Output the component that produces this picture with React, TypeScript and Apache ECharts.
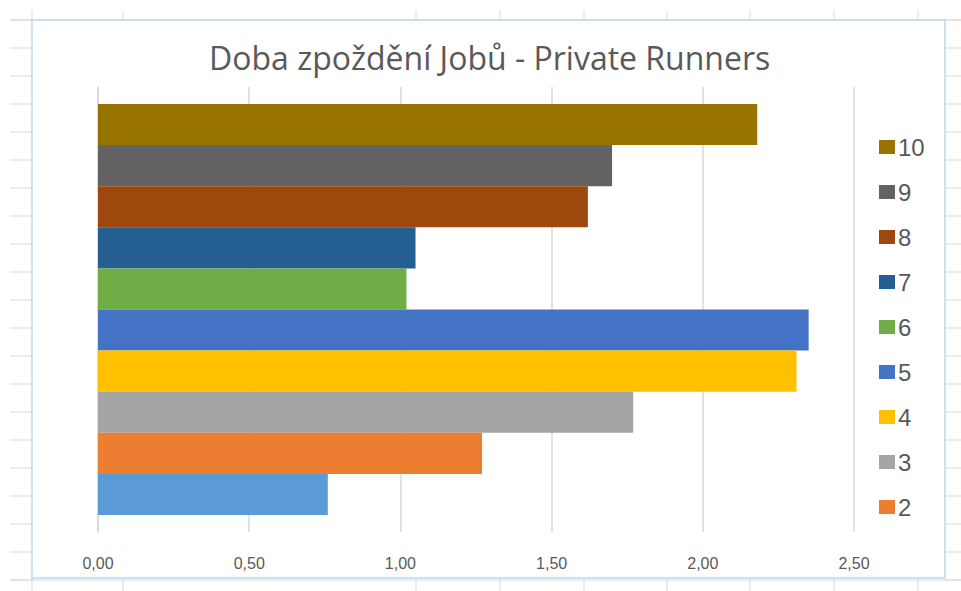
import React, { useEffect, useRef } from "react";
import * as echarts from "echarts";

const categories = [""];
const seriesNames = ["1", "2", "3", "4", "5", "6", "7", "8", "9", "10"];
const seriesValues = [0.76, 1.27, 1.77, 2.31, 2.35, 1.02, 1.05, 1.62, 1.7, 2.18];
const seriesColors = [
  "#5B9BD5", "#ED7D31", "#A5A5A5", "#FFC000", "#4472C4",
  "#70AD47", "#255E91", "#9E480E", "#636363", "#997300",
];
const legendOrder = ["10", "9", "8", "7", "6", "5", "4", "3", "2"];
const xMin = 0;
const xMax = 2.5;
const xInterval = 0.5;
const titleText = "Doba zpoždění Jobů - Private Runners";

// spreadsheet background grid positions
const rowLines = [20, 48, 76, 104, 132, 160, 188, 216, 244, 272, 300, 328, 356, 384, 412, 440, 468, 496, 524, 552, 580];
const colLines = [32, 123, 416, 500, 584, 667, 750, 834, 918];

export default function App() {
  const ref = useRef<HTMLDivElement>(null);
  useEffect(() => {
    if (!ref.current) return;
    const chart = echarts.init(ref.current, null, { renderer: "svg" });
    const sheetColor = "#D9D9D9";
    const graphics: any[] = [];
    rowLines.forEach((y) => {
      graphics.push({ type: "line", silent: true, z: -10, shape: { x1: 10, y1: y, x2: 32, y2: y }, style: { stroke: sheetColor, lineWidth: 1 } });
      graphics.push({ type: "line", silent: true, z: -10, shape: { x1: 945, y1: y, x2: 961, y2: y }, style: { stroke: sheetColor, lineWidth: 1 } });
    });
    graphics.push({ type: "line", silent: true, z: -10, shape: { x1: 10, y1: 20, x2: 961, y2: 20 }, style: { stroke: sheetColor, lineWidth: 1 } });
    graphics.push({ type: "line", silent: true, z: -10, shape: { x1: 10, y1: 580, x2: 961, y2: 580 }, style: { stroke: sheetColor, lineWidth: 1 } });
    colLines.forEach((x) => {
      graphics.push({ type: "line", silent: true, z: -10, shape: { x1: x, y1: 10, x2: x, y2: 20 }, style: { stroke: sheetColor, lineWidth: 1 } });
      graphics.push({ type: "line", silent: true, z: -10, shape: { x1: x, y1: 578, x2: x, y2: 591 }, style: { stroke: sheetColor, lineWidth: 1 } });
    });
    graphics.push({
      type: "rect", silent: true, z: -5,
      shape: { x: 32, y: 20, width: 913, height: 558 },
      style: { fill: "#FFFFFF", stroke: "#BDD7EE", lineWidth: 1.5 },
    });

    // ECharts stacks horizontal-bar series from the top, so add them last-first
    const order = seriesNames.map((_, i) => i).reverse();

    chart.setOption({
      animation: false,
      backgroundColor: "#FFFFFF",
      graphic: graphics,
      title: {
        text: titleText,
        left: 204,
        top: 36,
        textStyle: { fontFamily: "Open Sans", fontSize: 32, fontWeight: "normal", color: "#595959" },
      },
      legend: {
        orient: "vertical",
        left: 874,
        top: 130,
        data: legendOrder,
        icon: "rect",
        itemWidth: 16,
        itemHeight: 14,
        itemGap: 21,
        textStyle: { fontFamily: "Liberation Sans", fontSize: 24, color: "#595959", padding: [0, 0, 0, -2] },
      },
      grid: { left: 98, right: 107, top: 87, bottom: 59, containLabel: false },
      xAxis: {
        type: "value",
        min: xMin,
        max: xMax,
        interval: xInterval,
        axisLine: { show: false },
        axisTick: { show: false },
        splitLine: { show: true, lineStyle: { color: "#D9D9D9", width: 1.5 } },
        axisLabel: {
          margin: 23,
          fontFamily: "Liberation Sans",
          fontSize: 16,
          color: "#595959",
          formatter: (v: number) => v.toFixed(2).replace(".", ","),
        },
      },
      yAxis: {
        type: "category",
        data: categories,
        axisLine: { show: true, lineStyle: { color: "#D9D9D9", width: 1.5 } },
        axisTick: { show: false },
        axisLabel: { show: false },
      },
      series: order.map((i) => ({
        name: seriesNames[i],
        type: "bar",
        data: [seriesValues[i]],
        itemStyle: { color: seriesColors[i] },
        barGap: "0%",
        barCategoryGap: "7.6%",
      })),
    });
    return () => chart.dispose();
  }, []);
  return <div ref={ref} style={{ position: "fixed", left: 0, top: 0, width: 961, height: 591 }} />;
}
